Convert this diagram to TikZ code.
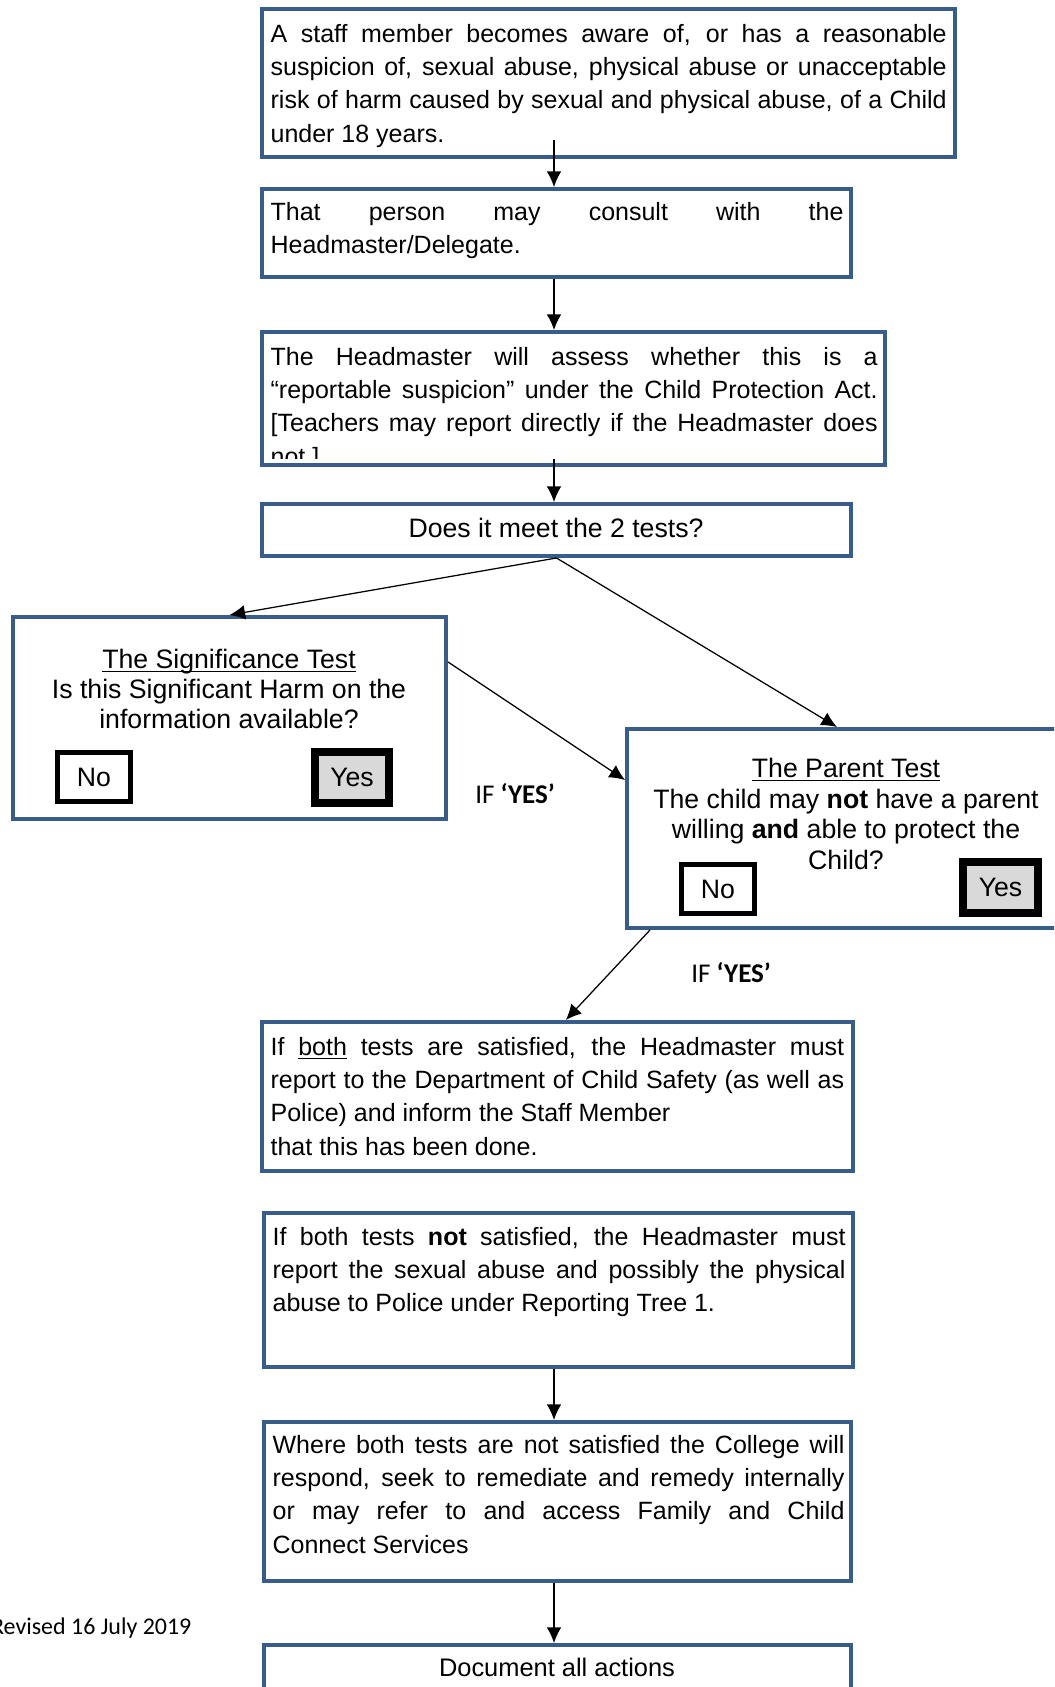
\documentclass[tikz,border=0pt]{standalone}
\usepackage{fontspec}
\setmainfont{Liberation Sans}
\newfontfamily\calibri{Carlito}
\usetikzlibrary{arrows.meta,fit}
\definecolor{boxblue}{RGB}{56,93,138}
\definecolor{yesgray}{RGB}{217,217,217}
\begin{document}
\begin{tikzpicture}[x=0.48pt, y=-0.48pt, -{Latex[length=7.5pt,width=7pt]}, semithick,
box/.style = {draw=boxblue, line width=1.9pt, inner sep=0pt},
txt/.style = {anchor=base west, inner sep=0pt, align=justify, font=\fontsize{12}{16}\selectfont,
  execute at begin node={\hyphenpenalty=10000\tolerance=10000\hbadness=10000}},
test/.style = {inner sep=0pt, align=center, font=\fontsize{12.8}{14.6}\selectfont},
nobox/.style = {draw, line width=2.4pt, inner sep=0pt},
yesbox/.style = {draw, fill=yesgray, line width=3.7pt, inner sep=0pt},
answer/.style = {inner sep=0pt, font=\fontsize{12.8}{14}\selectfont},
note/.style = {inner sep=0pt, font=\calibri\fontsize{13}{15}\selectfont}]
    \useasboundingbox (0,0) rectangle (1054,1687);
    \clip (0,0) rectangle (1054,1687);

    \node[box, fit={(262,9) (955,157)}] (1) {};
    \node[box, fit={(262,189) (851,277)}] (2) {};
    \node[box, fit={(262,332) (885,465)}] (3) {};
    \node[box, fit={(262,504) (851,556)}] (4) {};
    \node[box, fit={(13,617) (446,819)}] (5) {};
    \node[box, fit={(627,729) (1067,928)}] (6) {};
    \node[box, fit={(262,1022) (853,1171)}] (7) {};
    \node[box, fit={(264,1213) (853,1367)}] (8) {};
    \node[box, fit={(264,1422) (851,1581)}] (9) {};
    \node[box, fit={(264,1645) (851,1720)}] (10) {};

    \node[txt, text width=324.5pt] (11) at (270,42) {A staff member becomes aware of, or has a reasonable\linebreak suspicion of, sexual abuse, physical abuse or unacceptable\linebreak risk of harm caused by sexual and physical abuse, of a Child\linebreak under 18 years.};
    \node[txt, text width=275pt] (12) at (270,220) {That person may consult with the\linebreak Headmaster/Delegate.};
    \begin{scope}
    \clip (266,336) rectangle (881,458);
    \node[txt, text width=291.4pt] (13) at (270,365) {The Headmaster will assess whether this is a\linebreak “reportable suspicion” under the Child Protection Act.\linebreak {[}Teachers may report directly if the Headmaster does\linebreak not.]};
    \end{scope}
    \node[inner sep=0pt, font=\fontsize{12.8}{14}\selectfont] (14) at (556,528) {Does it meet the 2 tests?};
    \node[test] (15) at (229,689) {\underbar{The Significance Test}\\ Is this Significant Harm on the\\ information available?};
    \node[test] (16) at (846,814) {\underbar{The Parent Test}\\ The child may \textbf{not} have a parent\\ willing \textbf{and} able to protect the\\ Child?};
    \node[txt, text width=275.3pt] (17) at (270,1055) {If \underbar{both} tests are satisfied, the Headmaster must\linebreak report to the Department of Child Safety (as well as\linebreak Police) and inform the Staff Member\newline that this has been done.};
    \node[txt, text width=275pt] (18) at (272,1245) {If both tests \textbf{not} satisfied, the Headmaster must\linebreak report the sexual abuse and possibly the physical\linebreak abuse to Police under Reporting Tree 1.};
    \node[txt, text width=274.5pt] (19) at (272,1453) {Where both tests are not satisfied the College will\linebreak respond, seek to remediate and remedy internally\linebreak or may refer to and access Family and Child\linebreak Connect Services};
    \node[inner sep=0pt, font=\fontsize{12.2}{14}\selectfont] (20) at (557,1667) {Document all actions};

    \node[nobox, fit={(57.5,752.5) (130.5,801.5)}] (21) {};
    \node[answer] at (21) {No};
    \node[yesbox, fit={(315,752) (389,803)}] (22) {};
    \node[answer] at (22) {Yes};
    \node[nobox, fit={(681.5,864.5) (754.5,913.5)}] (23) {};
    \node[answer] at (23) {No};
    \node[yesbox, fit={(963,862) (1038,913)}] (24) {};
    \node[answer] at (24) {Yes};

    \node[note] (25) at (515,794) {IF \textbf{‘YES’}};
    \node[note] (26) at (731,973) {IF \textbf{‘YES’}};
    \node[note, anchor=east, font=\calibri\fontsize{11.5}{14}\selectfont] (27) at (192,1628) {Revised 16 July 2019};

    \coordinate (c1) at (554,140);
    \coordinate (c3) at (554,459);
    \draw (c1) -- (c1 |- 2.north);
    \draw (c1 |- 2.south) -- (c1 |- 3.north);
    \draw (c3) -- (c3 |- 4.north);
    \draw (4.south) -- (5.north);
    \draw (4.south) -- ([xshift=-4.8pt]6.north);
    \draw ([yshift=26.9pt]5.east) -- ([yshift=23.3pt]6.west);
    \draw ([xshift=12pt]6.south west) -- ([xshift=4pt]7.north);
    \draw (c1 |- 8.south) -- (c1 |- 9.north);
    \draw (c1 |- 9.south) -- (c1 |- 10.north);
\end{tikzpicture}
\end{document}
